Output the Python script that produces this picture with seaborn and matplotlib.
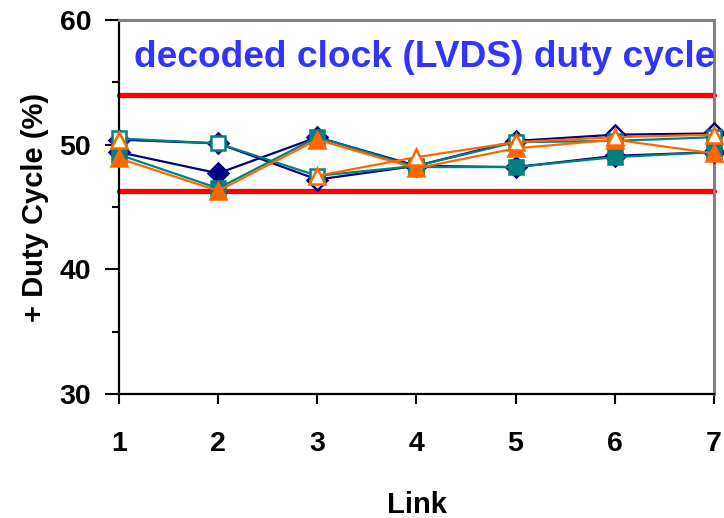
import numpy as np
import pandas as pd
import matplotlib
matplotlib.use("Agg")
import matplotlib.pyplot as plt
import seaborn as sns

# ---- data ----
links = [1, 2, 3, 4, 5, 6, 7]
navy_filled = [49.4, 47.7, 50.6, 48.3, 48.2, 49.1, 49.4]
navy_open = [50.4, 50.1, 47.2, 48.3, 50.3, 50.8, 50.9]
teal_filled = [49.2, 46.5, 50.6, 48.2, 48.2, 49.0, 49.4]
teal_open = [50.5, 50.1, 47.5, 48.3, 50.2, 50.3, 50.6]
orange_filled = [48.9, 46.3, 50.4, 48.1, 49.7, 50.4, 49.3]
orange_open = [50.4, np.nan, 47.5, 49.0, 50.2, 50.6, 50.8]
limit_high = 54.0
limit_low = 46.3
title_text = "decoded clock (LVDS) duty cycle"
xlabel = "Link"
ylabel = "+ Duty Cycle (%)"
yticks = [30, 40, 50, 60]

NAVY = "#000080"
TEAL = "#008080"
ORANGE = "#FF6600"

sns.set_style("ticks")
plt.rcParams["font.family"] = ["Liberation Sans", "DejaVu Sans"]
plt.rcParams["font.weight"] = "bold"
plt.rcParams["text.color"] = "black"
plt.rcParams["axes.labelcolor"] = "black"
plt.rcParams["xtick.color"] = "black"
plt.rcParams["ytick.color"] = "black"

fig = plt.figure(figsize=(7.24, 5.18), dpi=100)
ax = fig.add_axes([0.1644, 0.2394, 0.8216, 0.722])

series = [
    (navy_filled, NAVY, "D", True),
    (navy_open, NAVY, "D", False),
    (teal_filled, TEAL, "s", True),
    (teal_open, TEAL, "s", False),
    (orange_filled, ORANGE, "^", True),
    (orange_open, ORANGE, "^", False),
]

for vals, col, mk, filled in series:
    df = pd.DataFrame({"Link": links, "val": vals})
    df["seg"] = df["val"].isna().cumsum()
    df = df.dropna()
    for _, sub in df.groupby("seg"):
        sns.lineplot(
            data=sub, x="Link", y="val", ax=ax, color=col, linewidth=1.6,
            marker=mk, markersize=11 if mk == "^" else 10,
            markerfacecolor=col if filled else "white",
            markeredgecolor=col, markeredgewidth=1.8,
            clip_on=False, zorder=3, legend=False,
        )

# limit lines
lim_df = pd.DataFrame({"Link": [links[0], links[-1]], "hi": [limit_high] * 2, "lo": [limit_low] * 2})
sns.lineplot(data=lim_df, x="Link", y="hi", ax=ax, color="#FF0000", linewidth=3.8,
             solid_capstyle="round", clip_on=False, zorder=2, legend=False)
sns.lineplot(data=lim_df, x="Link", y="lo", ax=ax, color="#FF0000", linewidth=3.8,
             solid_capstyle="round", clip_on=False, zorder=2, legend=False)

ax.text(1.155, 57.0, title_text, color="#3333FF", fontsize=26.7, fontweight="bold",
        ha="left", va="center", zorder=5)

ax.set_xlim(1, 7)
ax.set_ylim(30, 60)
ax.set_xticks(links)
ax.set_yticks(yticks)
ax.set_yticks([35, 45, 55], minor=True)
ax.tick_params(axis="both", which="major", labelsize=20.5, width=1.5, color="black",
               labelcolor="black")
ax.tick_params(axis="y", which="major", length=10, pad=10)
ax.tick_params(axis="y", which="minor", length=5, width=1.5, color="black")
ax.tick_params(axis="x", which="major", length=7, pad=20)
for lab in ax.get_xticklabels() + ax.get_yticklabels():
    lab.set_fontweight("bold")

ax.set_xlabel(xlabel, fontsize=21, fontweight="bold", labelpad=24, color="black")
ax.set_ylabel(ylabel, fontsize=21, fontweight="bold", labelpad=8, color="black")

for side in ["left", "bottom"]:
    ax.spines[side].set_color("black")
    ax.spines[side].set_linewidth(1.6)
for side in ["top", "right"]:
    ax.spines[side].set_visible(True)
    ax.spines[side].set_color("#808080")
    ax.spines[side].set_linewidth(2.2)

fig.savefig("out.png", dpi=100)
